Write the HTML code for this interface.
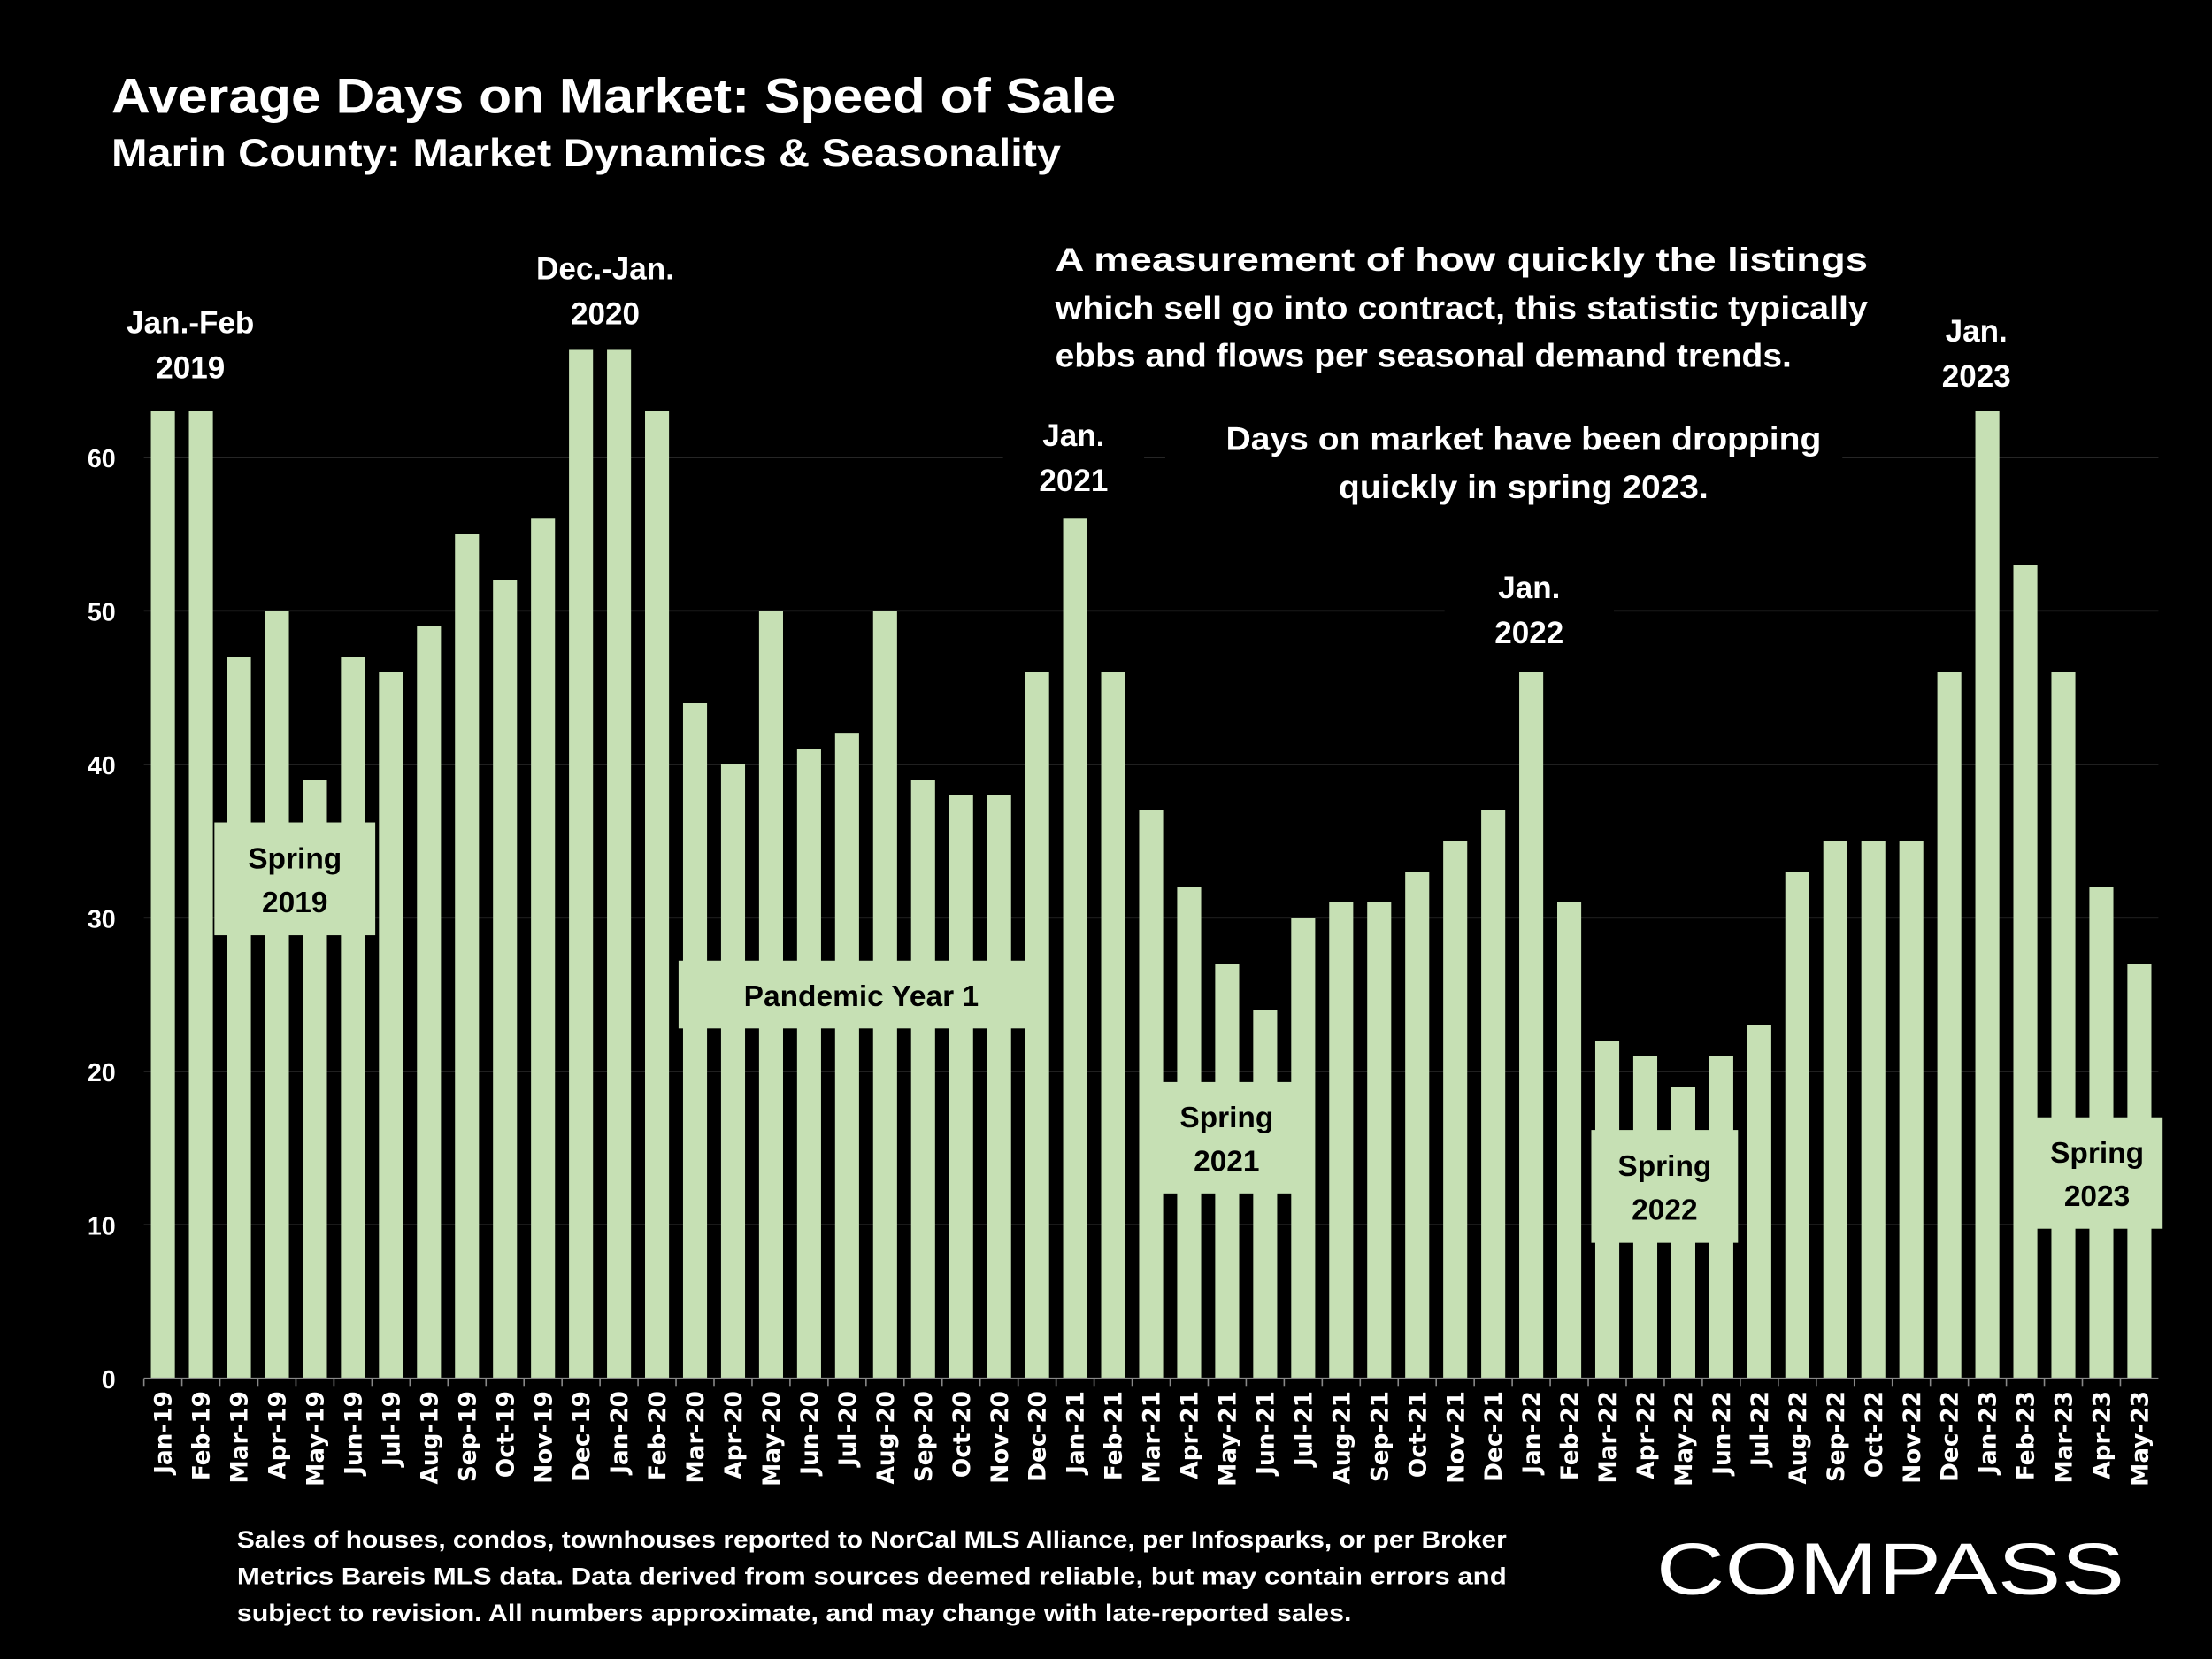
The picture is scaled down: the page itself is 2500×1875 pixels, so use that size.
<!DOCTYPE html>
<html><head><meta charset="utf-8"><style>
html,body{margin:0;padding:0;background:#000;}
svg{display:block;}
.t{font-family:"Liberation Sans",sans-serif;font-weight:bold;fill:#fff;}
.l{font-family:"Liberation Sans",sans-serif;font-weight:bold;fill:#000;}
.tick{font-family:"DejaVu Sans",sans-serif;font-weight:bold;fill:#fff;font-size:16.5px;}
</style></head><body>
<svg id="chart" width="2500" height="1875" viewBox="0 0 1568 1176" xmlns="http://www.w3.org/2000/svg">
<rect width="1568" height="1176" fill="#000"/>
<text class="t" x="79" y="80" font-size="35" textLength="712" lengthAdjust="spacingAndGlyphs">Average Days on Market:  Speed of Sale</text>
<text class="t" x="79" y="118" font-size="28" textLength="673" lengthAdjust="spacingAndGlyphs">Marin County: Market Dynamics &amp; Seasonality</text>
<g id="grid"></g>
<g id="yaxis"></g>
<g id="bars"></g>
<g id="xaxis"></g>
<g id="notes"></g>
<g>
<text class="t" x="748" y="192" font-size="23" textLength="576" lengthAdjust="spacingAndGlyphs">A measurement of how quickly the listings</text>
<text class="t" x="748" y="226" font-size="23" textLength="576" lengthAdjust="spacingAndGlyphs">which sell go into contract, this statistic typically</text>
<text class="t" x="748" y="260" font-size="23" textLength="522" lengthAdjust="spacingAndGlyphs">ebbs and flows per seasonal demand trends.</text>
</g>
<rect x="826" y="292" width="480" height="74" fill="#000"/>
<g>
<text class="t" x="1080" y="319" font-size="23" text-anchor="middle" textLength="422" lengthAdjust="spacingAndGlyphs">Days on market have been dropping</text>
<text class="t" x="1080" y="353" font-size="23" text-anchor="middle" textLength="262" lengthAdjust="spacingAndGlyphs">quickly in spring 2023.</text>
</g>
<g>
<text class="t" x="168" y="1097" font-size="17" textLength="900" lengthAdjust="spacingAndGlyphs">Sales of houses, condos, townhouses reported to NorCal MLS Alliance, per Infosparks, or per Broker</text>
<text class="t" x="168" y="1123" font-size="17" textLength="900" lengthAdjust="spacingAndGlyphs">Metrics Bareis MLS data. Data derived from sources deemed reliable, but may contain errors and</text>
<text class="t" x="168" y="1149" font-size="17" textLength="790" lengthAdjust="spacingAndGlyphs">subject to revision. All numbers approximate, and may change with late-reported sales.</text>
</g>
<text x="1174" y="1130" font-family="Liberation Sans,sans-serif" font-size="52" fill="#fff" textLength="332" lengthAdjust="spacingAndGlyphs">COMPASS</text>
</svg>
<script>
const categories=["Jan-19","Feb-19","Mar-19","Apr-19","May-19","Jun-19","Jul-19","Aug-19","Sep-19","Oct-19","Nov-19","Dec-19","Jan-20","Feb-20","Mar-20","Apr-20","May-20","Jun-20","Jul-20","Aug-20","Sep-20","Oct-20","Nov-20","Dec-20","Jan-21","Feb-21","Mar-21","Apr-21","May-21","Jun-21","Jul-21","Aug-21","Sep-21","Oct-21","Nov-21","Dec-21","Jan-22","Feb-22","Mar-22","Apr-22","May-22","Jun-22","Jul-22","Aug-22","Sep-22","Oct-22","Nov-22","Dec-22","Jan-23","Feb-23","Mar-23","Apr-23","May-23"];
const values=[63,63,47,50,39,47,46,49,55,52,56,67,67,63,44,40,50,41,42,50,39,38,38,46,56,46,37,32,27,24,30,31,31,33,35,37,46,31,22,21,19,21,23,33,35,35,35,46,63,53,46,32,27];
const yTicks=[0,10,20,30,40,50,60];
const NS="http://www.w3.org/2000/svg";
const x0=102,x1=1530,yBase=977,pxPer=10.88;
const step=(x1-x0)/categories.length;
const bw=17;
const xc=i=>x0+step*(i+0.5);
const y=v=>yBase-v*pxPer;
function mk(tag,attrs,parent){const e=document.createElementNS(NS,tag);for(const k in attrs)e.setAttribute(k,attrs[k]);parent.appendChild(e);return e;}
const grid=document.getElementById('grid'),ya=document.getElementById('yaxis'),bars=document.getElementById('bars'),xa=document.getElementById('xaxis'),notes=document.getElementById('notes');
yTicks.forEach(t=>{
 if(t>0){const g=mk('line',{x1:x0,x2:x1,y1:y(t),y2:y(t),stroke:'#333','stroke-width':1},grid);
 
 }
 const tx=mk('text',{x:82,y:y(t)+7,'text-anchor':'end','font-size':18,class:'t'},ya);
 tx.textContent=t;
 
 
});
categories.forEach((c,i)=>{
 const r=mk('rect',{x:xc(i)-bw/2,y:y(values[i]),width:bw,height:values[i]*pxPer,fill:'#c6e0b4'},bars);
 
 
 const tk=mk('line',{x1:x0+step*i,x2:x0+step*i,y1:yBase,y2:yBase+6,stroke:'#888'},xa);
 
 
 const tx=mk('text',{class:'tick','text-anchor':'end',transform:`translate(${xc(i)+6},${yBase+9}) rotate(-90)`},xa);
 tx.textContent=c;
 
 
});
mk('line',{x1:x0,x2:x1,y1:yBase,y2:yBase,stroke:'#888'},xa);
const labelsTop=[[135,214,["Jan.-Feb","2019"],0,0],[429,176,["Dec.-Jan.","2020"],0,0],[761,294,["Jan.","2021"],100,72],[1084,402,["Jan.","2022"],120,72],[1401,220,["Jan.","2023"],0,0]];
labelsTop.forEach(a=>{
 const g=mk('g',{},notes);
 
 
 if(a[3])mk('rect',{x:a[0]-a[3]/2,y:a[1],width:a[3],height:a[4],fill:'#000'},g);
 a[2].forEach((s,k)=>{const t=mk('text',{x:a[0],y:a[1]+22+k*32,'text-anchor':'middle','font-size':22,class:'t'},g);t.textContent=s;});
});
const boxes=[[152,583,114,80,["Spring","2019"]],[481,681,259,48,["Pandemic Year 1"]],[822,767,95,79,["Spring","2021"]],[1128,801,104,80,["Spring","2022"]],[1440,792,93,79,["Spring","2023"]]];
boxes.forEach(b=>{
 const g=mk('g',{},notes);
 
 
 mk('rect',{x:b[0],y:b[1],width:b[2],height:b[3],fill:'#c6e0b4'},g);
 const n=b[4].length;
 b[4].forEach((s,k)=>{const t=mk('text',{x:b[0]+b[2]/2,y:b[1]+b[3]/2+8+(k-(n-1)/2)*31,'text-anchor':'middle','font-size':21,class:'l'},g);t.textContent=s;});
});
</script>
</body></html>
